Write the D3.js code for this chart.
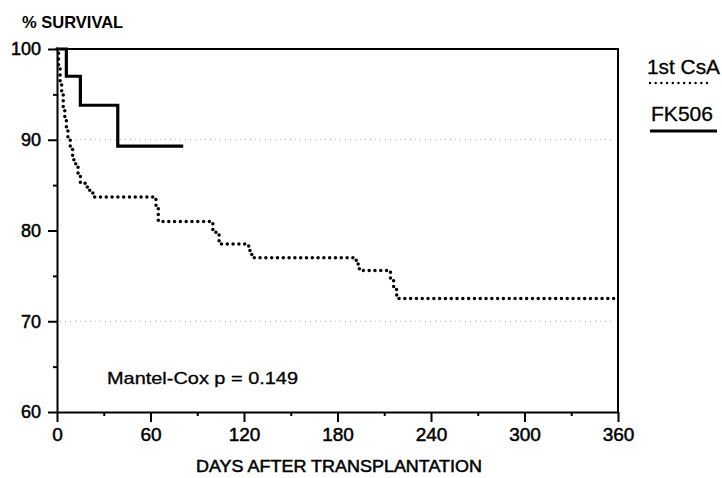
<!DOCTYPE html>
<html>
<head>
<meta charset="utf-8">
<script src="https://cdn.jsdelivr.net/npm/d3@7"></script>
<style>
  body { margin: 0; background: #fff; }
  svg { display: block; font-family: "Liberation Sans", Arial, sans-serif; }
  .axis path, .axis line { stroke: #000; stroke-width: 2; }
  .axis text { fill: #000; stroke: #000; stroke-width: 0.5; }
</style>
</head>
<body>
<div id="chart"></div>
<script>
// Kaplan-Meier steps (days, % survival)
var csaDays   = [0, 1, 2, 3, 4, 5, 6, 7, 8.5, 10, 12, 13.5, 15, 18, 21, 23, 63.5, 65, 100, 104, 123, 125, 192, 194, 214, 216, 218, 360];
var csaValues = [100, 98, 96.5, 95, 93.5, 92.3, 91, 90, 89, 87.8, 87, 86.2, 85.2, 84.8, 84.3, 83.7, 82.5, 81, 79.8, 78.5, 77.8, 77, 76.3, 75.6, 74.6, 73.5, 72.5, 72.5];
var fkDays    = [0, 6, 15, 39, 81];
var fkValues  = [100, 97, 93.8, 89.3, 89.3];

var xTicks = [0, 60, 120, 180, 240, 300, 360];
var xMinorTicks = [30, 90, 150, 210, 270, 330];
var yTicks = [60, 70, 80, 90, 100];
var yMinorTicks = [65, 75, 85, 95];
var gridValues = [90, 70];

var width = 722, height = 478;
var svg = d3.select('#chart').append('svg')
	.attr('width', width)
	.attr('height', height);

var x = d3.scaleLinear().domain([0, 360]).range([57, 618]);
var y = d3.scaleLinear().domain([60, 100]).range([412, 49]);

function zip(days, values) {
	return days.map(function(d, i) { return {day: d, value: values[i]}; });
}

var line = d3.line()
	.curve(d3.curveStepAfter)
	.x(function(d) { return x(d.day); })
	.y(function(d) { return y(d.value); });

// faint dotted reference lines
svg.selectAll('.grid')
	.data(gridValues).enter()
	.append('line')
	.attr('class', 'grid')
	.attr('x1', x(2)).attr('x2', x(358))
	.attr('y1', function(d) { return y(d); })
	.attr('y2', function(d) { return y(d); })
	.attr('stroke', '#aaa')
	.attr('stroke-width', 1)
	.attr('stroke-dasharray', '1,4');

// frame top and right
svg.append('path')
	.attr('d', 'M' + x(0) + ',' + y(100) + 'H' + x(360) + 'V' + y(60))
	.attr('fill', 'none')
	.attr('stroke', '#000')
	.attr('stroke-width', 2);

// minor ticks first, then major axes
svg.append('g')
	.attr('class', 'axis')
	.attr('transform', 'translate(0,' + y(60) + ')')
	.call(d3.axisBottom(x).tickValues(xMinorTicks).tickSize(4).tickFormat(''))
	.select('.domain').remove();

svg.append('g')
	.attr('class', 'axis')
	.attr('transform', 'translate(' + x(0) + ',0)')
	.call(d3.axisLeft(y).tickValues(yMinorTicks).tickSize(4).tickFormat(''))
	.select('.domain').remove();

var xAxis = svg.append('g')
	.attr('class', 'axis')
	.attr('transform', 'translate(0,' + y(60) + ')')
	.call(d3.axisBottom(x).tickValues(xTicks).tickSize(10).tickSizeOuter(0).tickPadding(6));
xAxis.selectAll('text').attr('font-size', 19);

var yAxis = svg.append('g')
	.attr('class', 'axis')
	.attr('transform', 'translate(' + x(0) + ',0)')
	.call(d3.axisLeft(y).tickValues(yTicks).tickSize(9).tickSizeOuter(0).tickPadding(7));
yAxis.selectAll('text').attr('font-size', 18);

// survival curves
svg.append('path')
	.datum(zip(csaDays, csaValues))
	.attr('fill', 'none')
	.attr('stroke', '#000')
	.attr('stroke-width', 3.5)
	.attr('stroke-linecap', 'round')
	.attr('stroke-dasharray', '0,5.8')
	.attr('d', line);

svg.append('path')
	.datum(zip(fkDays, fkValues))
	.attr('fill', 'none')
	.attr('stroke', '#000')
	.attr('stroke-width', 3.2)
	.attr('d', line);

// titles
svg.append('text')
	.attr('x', 22).attr('y', 28)
	.attr('font-size', 16.5)
	.attr('font-weight', 'bold')
	.text('% SURVIVAL');

svg.append('text')
	.attr('x', 339).attr('y', 472)
	.attr('text-anchor', 'middle')
	.attr('font-size', 17)
	.attr('textLength', 286)
	.attr('lengthAdjust', 'spacingAndGlyphs')
	.attr('stroke', '#000').attr('stroke-width', 0.5)
	.text('DAYS AFTER TRANSPLANTATION');

svg.append('text')
	.attr('x', 107).attr('y', 384)
	.attr('font-size', 17)
	.attr('textLength', 191)
	.attr('lengthAdjust', 'spacingAndGlyphs')
	.attr('stroke', '#000').attr('stroke-width', 0.3)
	.text('Mantel-Cox p = 0.149');

// legend
svg.append('text')
	.attr('x', 647).attr('y', 74)
	.attr('font-size', 20)
	.attr('textLength', 73)
	.attr('lengthAdjust', 'spacingAndGlyphs')
	.attr('stroke', '#000').attr('stroke-width', 0.3)
	.text('1st CsA');

svg.append('line')
	.attr('x1', 650).attr('x2', 712)
	.attr('y1', 83).attr('y2', 83)
	.attr('stroke', '#000')
	.attr('stroke-width', 2.4)
	.attr('stroke-linecap', 'round')
	.attr('stroke-dasharray', '0,5.7');

svg.append('text')
	.attr('x', 651).attr('y', 121)
	.attr('font-size', 21)
	.attr('textLength', 62)
	.attr('lengthAdjust', 'spacingAndGlyphs')
	.attr('stroke', '#000').attr('stroke-width', 0.3)
	.text('FK506');

svg.append('line')
	.attr('x1', 650).attr('x2', 717)
	.attr('y1', 131).attr('y2', 131)
	.attr('stroke', '#000')
	.attr('stroke-width', 3);
</script>
</body>
</html>
